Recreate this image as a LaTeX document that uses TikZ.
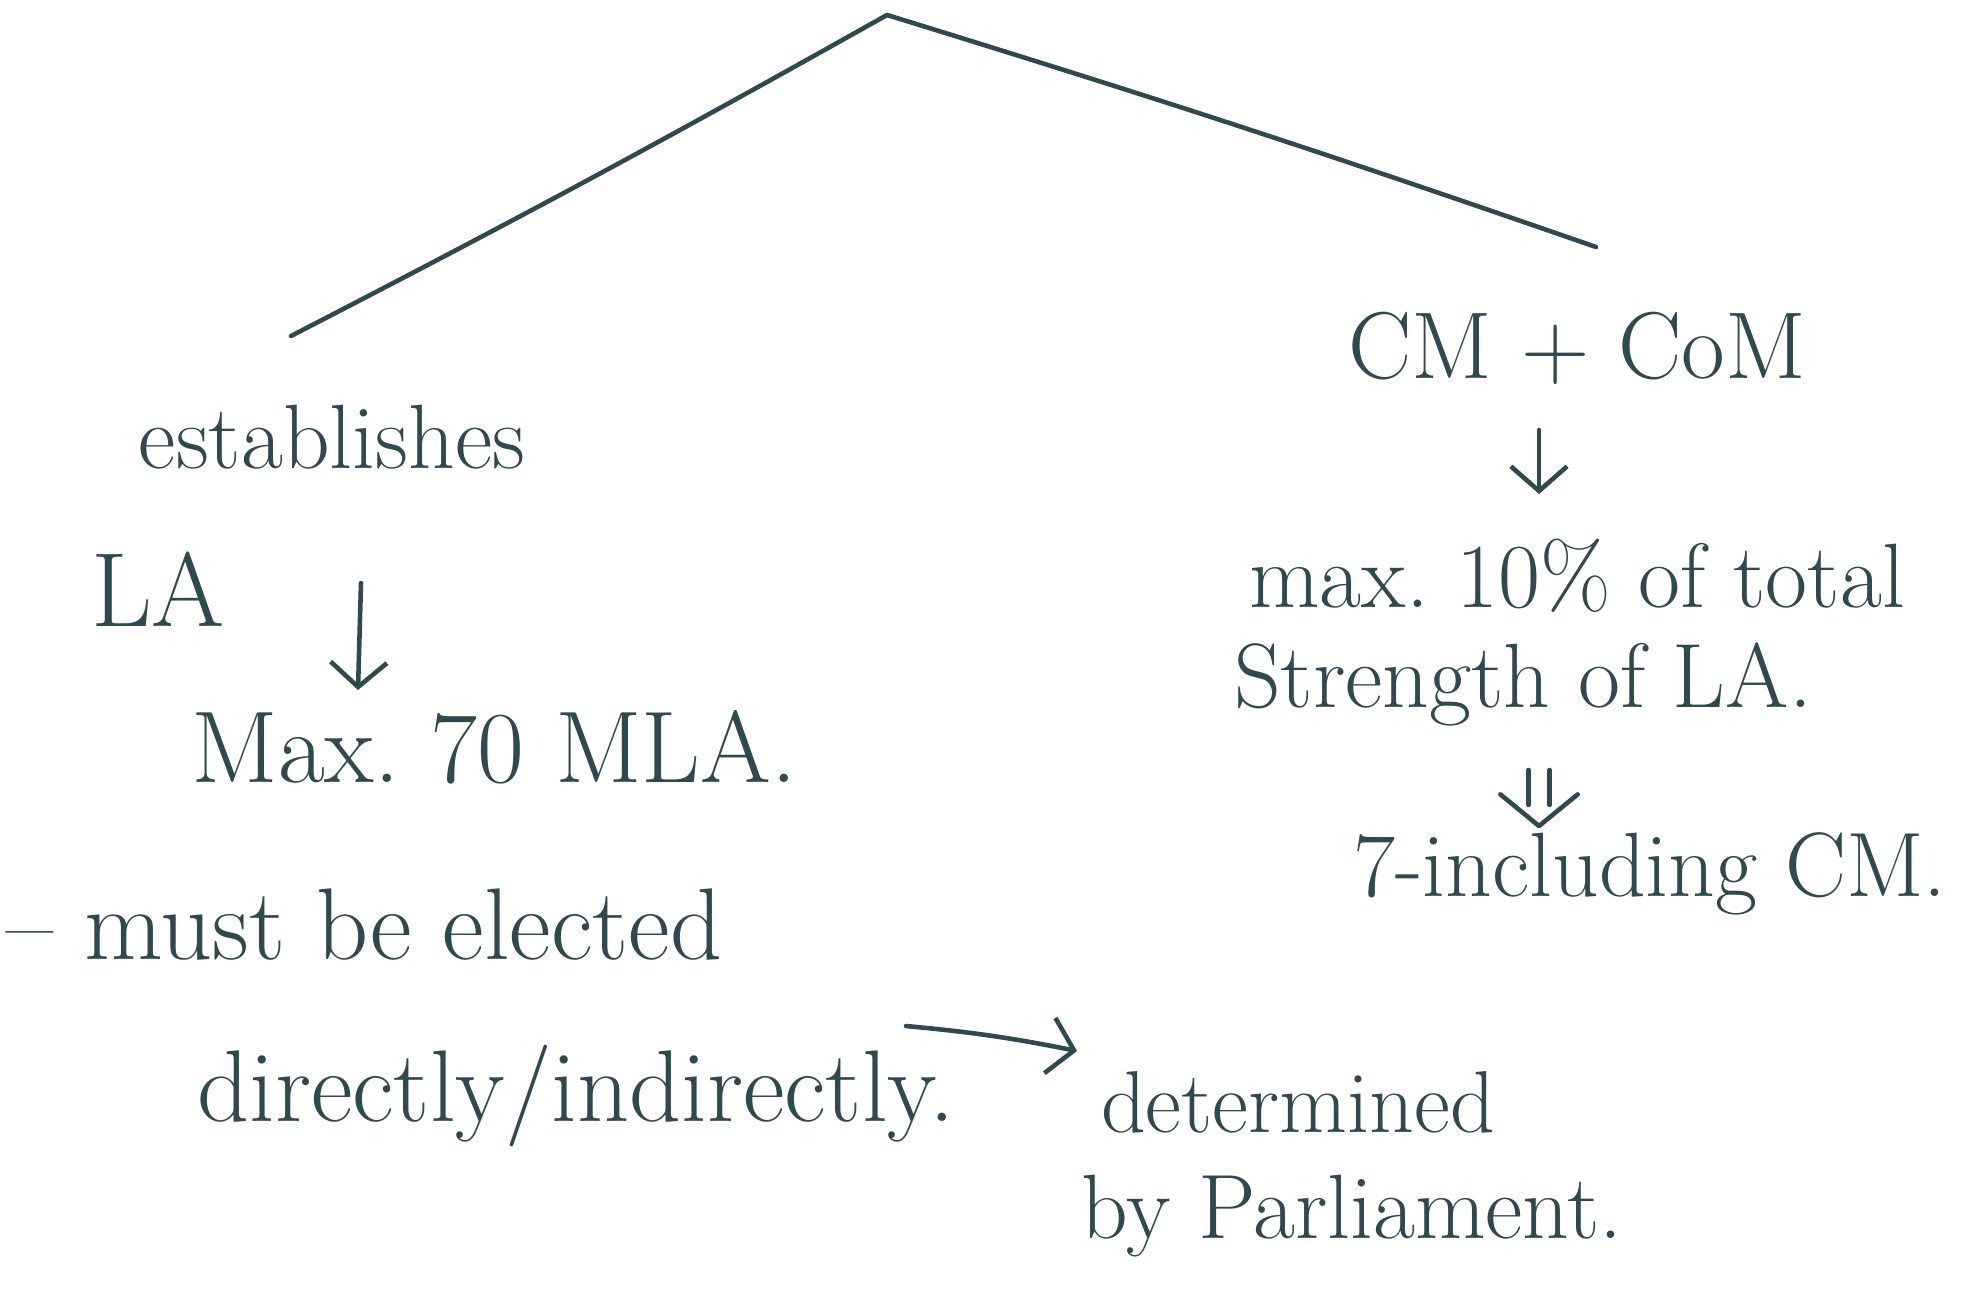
\documentclass[tikz,border=0pt]{standalone}
\usetikzlibrary{positioning,arrows.meta}
\definecolor{ink}{HTML}{2E4A4E}

\begin{document}
\begin{tikzpicture}[x=0.01cm, y=-0.01cm,
    note/.style={text=ink, font=\fontsize{26}{30}\selectfont, inner sep=0pt},
    big/.style={font=\fontsize{29}{33}\selectfont},
    pen/.style={draw=ink, line width=1.3pt, line cap=round, line join=round},
    tip/.style={-{Straight Barb[length=7pt,width=16pt]}}]
  \useasboundingbox (0,0) rectangle (1986,1291);

  % the two branches
  \coordinate (top) at (887,15);
  \coordinate (lft) at (291,336);
  \coordinate (rgt) at (1596,247);
  \draw[pen] (lft) to[bend right=1] (top) to[bend left=1] (rgt);

  % left side
  \node[note] (est) at (332,437) {establishes};
  \node[note, font=\fontsize{30}{34}\selectfont] (la) at (158,589) {LA};
  \node[note, big] (max) at (494,747) {Max.\ 70 MLA.};
  \node[note, big, anchor=west] (must) at (6,925) {-- must be elected};
  \node[note, big] (dir) at (576,1096) {directly/indirectly.};
  \node[note, font=\fontsize{25}{29}\selectfont] (det) at (1298,1102) {determined};
  \node[note] (parl) at (1352,1216) {by Parliament.};

  \coordinate (la out) at (361,583);
  \coordinate (max in) at (358,690);
  \draw[pen, tip] (la out) -- (max in);

  \coordinate (dir out) at (906,1026);
  \coordinate (det in) at (1077,1051);
  \draw[pen, tip] (dir out) to[bend left=3] (det in);

  % right side
  \node[note, font=\fontsize{27}{31}\selectfont] (cm) at (1577,348) {CM + CoM};
  \node[note] (tot) at (1577,576) {max.\ 10\% of total};
  \node[note] (str) at (1523,684) {Strength of LA.};
  \node[note] (incl) at (1650,874) {7-including CM.};

  \coordinate (cm out) at (1539,430);
  \coordinate (tot in) at (1539,494);
  \draw[pen, tip] (cm out) -- (tot in);

  \coordinate (str out) at (1539,770);
  \coordinate (incl in) at (1539,826);
  \draw[pen] ([xshift=-3pt]str out) -- ([xshift=-3pt,yshift=6pt]incl in)
             ([xshift=3pt]str out) -- ([xshift=3pt,yshift=6pt]incl in);
  \draw[pen] ([xshift=-11pt,yshift=9pt]incl in) -- (incl in) -- ([xshift=11pt,yshift=9pt]incl in);
\end{tikzpicture}
\end{document}
